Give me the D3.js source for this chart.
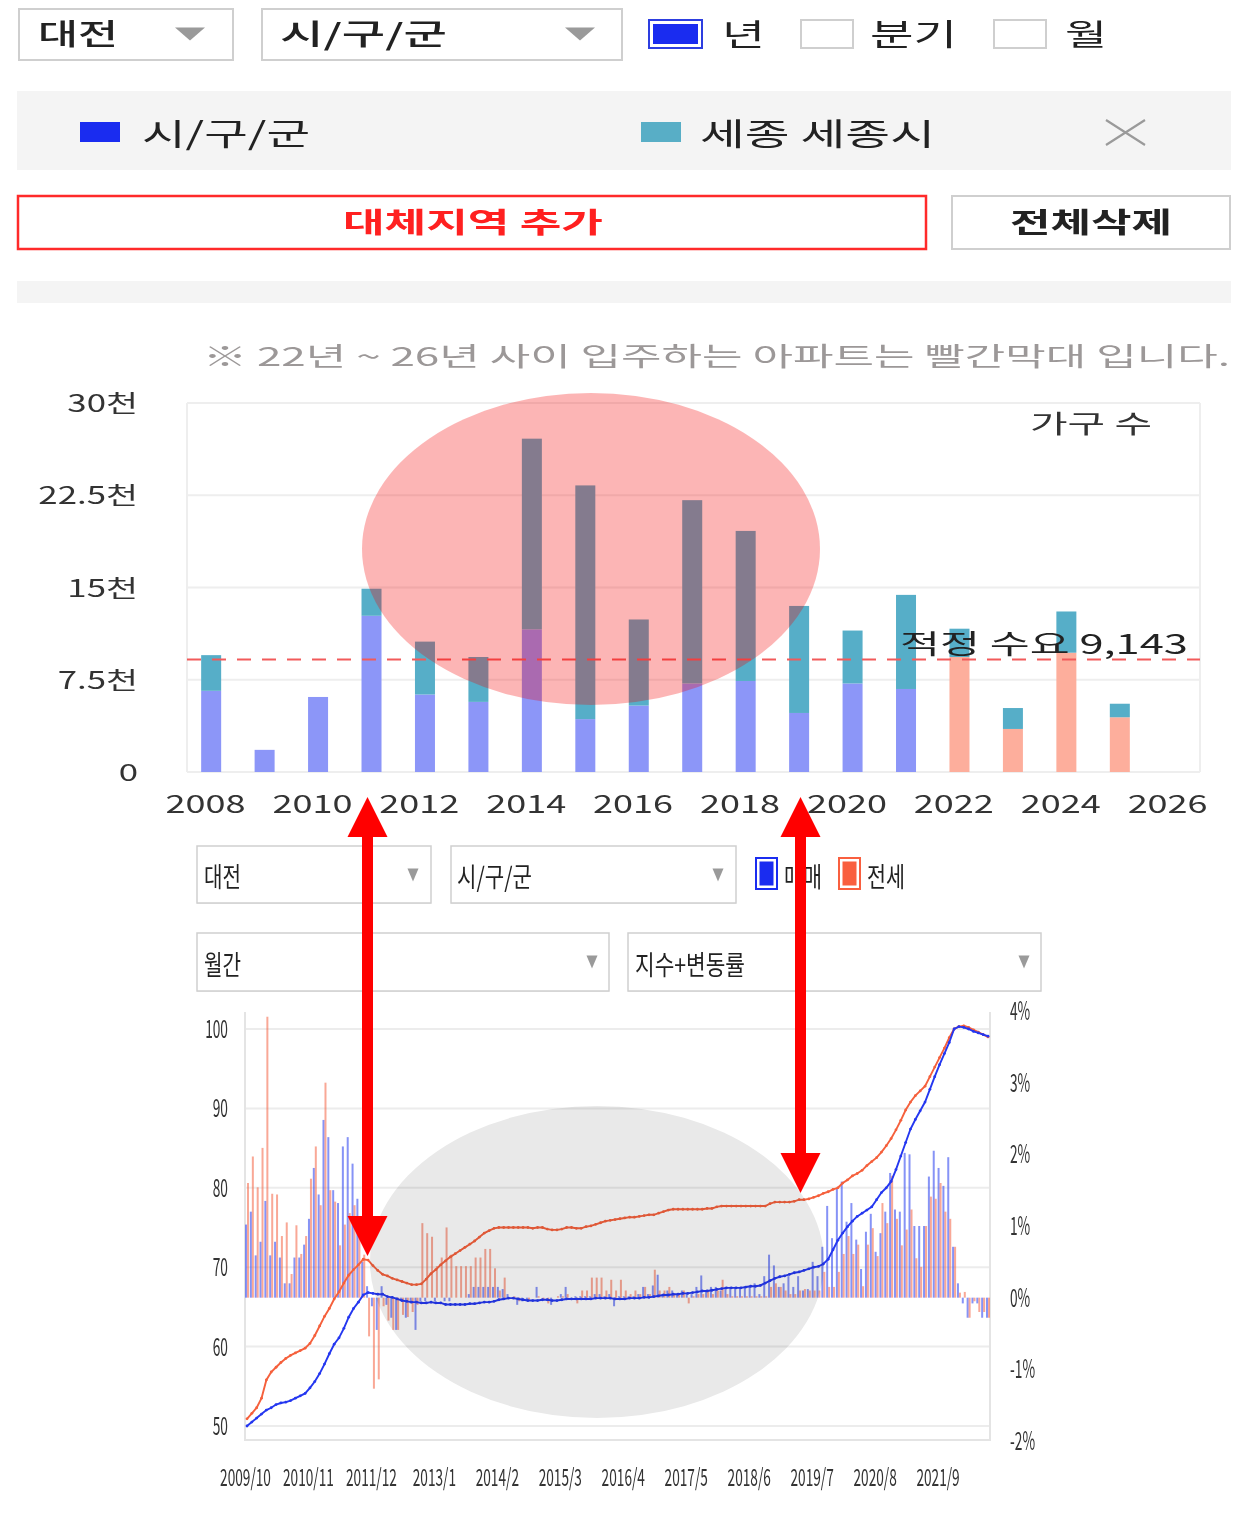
<!DOCTYPE html>
<html><head><meta charset="utf-8">
<script src="https://cdn.jsdelivr.net/npm/d3@7"></script>
<style>
body{margin:0;background:#fff;}
svg text{font-family:"Noto Sans CJK KR","Noto Sans",sans-serif;}
</style></head><body>
<svg id="c" width="1234" height="1518"></svg>
<script>
// ---------- DATA: top chart (입주 물량, 천 가구) ----------
const years = [2008,2009,2010,2011,2012,2013,2014,2015,2016,2017,2018,2019,2020,2021,2022,2023,2024,2025];
const daejeonSupply = [6.6,1.8,6.1,12.7,6.3,5.7,11.6,4.3,5.4,7.2,7.4,4.8,7.2,6.75,9.35,3.5,9.7,4.45];
const sejongSupply  = [2.9,0,0,2.2,4.3,3.65,15.5,19.0,7.0,14.9,12.2,8.7,4.3,7.65,2.3,1.7,3.35,1.1];
const futureFromYear = 2022;
const demandValue = 9.143;
const topYTicks = [0,7.5,15,22.5,30];
const topYTickLabels = ['0','7.5천','15천','22.5천','30천'];
const topXTicks = [2008,2010,2012,2014,2016,2018,2020,2022,2024,2026];

// ---------- DATA: bottom chart (월간 지수 + 변동률) ----------
const monthTickIdx = [0,13,26,39,52,65,78,91,104,117,130,143];
const monthTickLabels = ['2009/10','2010/11','2011/12','2013/1','2014/2','2015/3','2016/4','2017/5','2018/6','2019/7','2020/8','2021/9'];
const leftTicks = [50,60,70,80,90,100];
const rightTicks = [-2,-1,0,1,2,3,4];
const rightTickLabels = ['-2%','-1%','0%','1%','2%','3%','4%'];
const saleIndex = [
50.0,50.5,51.0,51.5,52.0,52.3,52.7,52.9,53.0,53.2,
53.5,53.8,54.1,54.8,55.6,56.6,57.8,59.1,60.3,61.1,
62.3,63.7,64.8,65.6,66.5,66.8,66.7,66.6,66.6,66.3,
66.2,66.0,65.8,65.7,65.6,65.6,65.5,65.5,65.6,65.5,
65.5,65.3,65.3,65.3,65.3,65.3,65.4,65.4,65.5,65.6,
65.6,65.7,65.9,66.0,66.1,66.1,66.0,65.9,65.8,65.8,
65.8,65.9,65.9,65.8,65.8,65.9,66.0,66.0,66.0,66.0,
66.0,66.0,66.1,66.1,66.1,66.1,66.0,66.0,66.0,66.1,
66.1,66.1,66.2,66.2,66.3,66.4,66.5,66.5,66.6,66.6,
66.7,66.7,66.8,66.9,67.0,67.0,67.1,67.2,67.3,67.4,
67.4,67.4,67.4,67.5,67.6,67.6,67.7,68.0,68.3,68.6,
68.8,68.9,69.1,69.3,69.4,69.6,69.8,70.0,70.1,70.4,
71.0,72.2,73.4,74.3,75.1,75.8,76.4,76.8,77.2,77.6,
78.5,79.4,80.0,80.8,82.3,84.0,85.7,87.4,88.6,89.7,
90.8,92.4,94.0,95.5,96.9,98.3,100.0,100.3,100.2,100.0,
99.7,99.5,99.3,99.1];
const jeonseIndex = [
50.9,51.6,52.3,53.5,55.8,56.8,57.4,58.0,58.5,58.9,
59.2,59.5,59.8,60.4,61.4,62.6,63.8,64.8,66.0,66.9,
68.0,69.0,69.7,70.3,71.0,70.9,70.2,69.6,69.1,68.9,
68.6,68.4,68.2,68.0,67.8,67.8,67.9,68.5,69.2,69.7,
70.3,70.8,71.3,71.7,72.1,72.5,72.9,73.3,73.8,74.3,
74.6,74.9,75.0,75.0,75.0,75.0,75.0,75.0,75.0,74.9,
75.0,75.0,74.8,74.7,74.7,74.8,75.0,75.0,74.9,74.9,
75.1,75.2,75.4,75.6,75.8,75.9,76.0,76.1,76.2,76.3,
76.3,76.4,76.5,76.6,76.6,76.8,77.0,77.2,77.3,77.3,
77.3,77.3,77.3,77.3,77.3,77.4,77.4,77.6,77.7,77.7,
77.7,77.7,77.7,77.7,77.7,77.7,77.7,77.7,78.0,78.2,
78.2,78.2,78.2,78.3,78.5,78.5,78.6,78.8,79.0,79.3,
79.5,79.8,80.0,80.6,81.0,81.5,81.8,82.2,82.8,83.3,
83.8,84.5,85.3,86.2,87.3,88.5,89.8,90.8,91.6,92.2,
92.8,94.0,95.2,96.4,97.6,98.9,100.0,100.3,100.4,100.2,
99.9,99.6,99.3,99.0];
const saleChange = [
1.02,1.20,0.59,0.78,1.35,0.59,0.78,0.56,0.20,0.20,
0.56,0.56,0.74,1.10,1.81,1.44,2.48,2.24,1.50,1.32,
2.11,2.24,1.87,1.38,0.50,0.16,-0.12,-0.45,0.16,-0.10,
-0.28,-0.45,-0.05,-0.28,-0.08,-0.45,-0.05,-0.05,0.00,-0.05,
0.00,-0.05,-0.05,0.00,0.00,0.00,0.05,0.15,0.15,0.15,
0.15,0.15,0.15,0.12,0.05,0.00,-0.10,-0.05,-0.05,0.00,
0.15,0.00,0.00,-0.10,0.00,0.05,0.15,0.00,0.02,0.02,
0.02,0.02,0.05,0.05,0.02,0.05,-0.12,0.02,0.02,0.02,
0.02,0.05,0.15,0.05,0.17,0.32,0.05,0.10,0.10,0.05,
0.10,0.05,0.05,0.15,0.31,0.10,0.15,0.15,0.10,0.15,
0.15,0.15,0.15,0.15,0.15,0.20,0.05,0.30,0.60,0.45,
0.15,0.20,0.30,0.15,0.30,0.10,0.12,0.50,0.30,0.71,
1.28,0.83,1.53,1.62,1.06,1.32,0.81,0.40,0.92,1.17,
0.64,0.90,1.20,1.74,1.23,1.20,2.02,2.00,1.00,1.00,
1.00,1.69,2.05,1.81,1.56,1.96,0.71,0.20,-0.08,-0.28,
-0.08,-0.08,-0.28,-0.28];
const jeonseChange = [
1.60,1.97,1.54,2.09,3.92,1.45,1.44,0.86,1.05,0.33,
1.01,0.61,0.86,1.66,2.11,1.29,3.00,1.50,1.34,0.73,
1.02,1.18,1.29,1.00,0.60,-0.54,-1.27,-1.14,-0.12,-0.32,
-0.45,-0.45,-0.24,-0.27,-0.20,-0.10,1.04,0.90,0.85,0.44,
0.56,0.98,0.60,0.44,0.44,0.44,0.44,0.56,0.56,0.68,
0.68,0.41,0.10,0.28,0.00,0.02,-0.05,0.00,-0.03,0.00,
0.02,-0.03,-0.08,0.00,0.02,0.02,0.05,0.00,-0.08,0.10,
0.10,0.28,0.28,0.28,0.10,0.25,0.10,0.25,0.10,0.05,
0.10,0.05,0.15,0.05,0.39,0.10,0.10,0.15,0.05,0.05,
0.10,-0.08,0.02,0.05,0.05,0.10,0.05,0.10,0.25,0.05,
0.02,0.02,0.02,0.02,0.02,0.02,0.02,0.02,0.15,0.20,
0.15,0.10,0.05,0.05,0.10,0.12,0.10,0.10,0.10,0.36,
0.15,0.15,0.36,0.61,0.86,0.61,0.74,0.16,0.74,0.97,
0.58,1.32,1.04,1.70,1.10,0.73,0.95,1.23,0.55,0.43,
1.00,1.41,1.38,1.60,1.20,1.10,0.71,0.07,0.08,-0.28,
-0.05,-0.20,-0.20,-0.28];

// ---------- helpers ----------
const svg = d3.select('#c');
function txt(g,x,y,str,size,fill,opt={}){
  const t=g.append('text').attr('x',x).attr('y',y).attr('font-size',size).attr('fill',fill)
    .attr('font-weight',opt.weight||400).attr('text-anchor',opt.anchor||'start').text(str);
  if(opt.width) t.attr('textLength',opt.width).attr('lengthAdjust','spacingAndGlyphs');
  return t;
}
function stretch(sel,f){ sel.each(function(){ const w=this.getComputedTextLength(); d3.select(this).attr('textLength',w*f).attr('lengthAdjust','spacingAndGlyphs'); }); }
function box(x,y,w,h,stroke,sw){ return svg.append('rect').attr('x',x).attr('y',y).attr('width',w).attr('height',h).attr('fill','#fff').attr('stroke',stroke).attr('stroke-width',sw); }
function tri(cx,cy,w,h,fill){ svg.append('path').attr('d',`M${cx-w/2},${cy-h/2}L${cx+w/2},${cy-h/2}L${cx},${cy+h/2}Z`).attr('fill',fill); }

// ---------- top controls ----------
box(19,9,214,51,'#cfcfcf',2);
txt(svg,38,45,'대전',29,'#222',{width:80,weight:500});
tri(190,34,30,13,'#9a9a9a');
box(262,9,360,51,'#cfcfcf',2);
txt(svg,280,45,'시/구/군',29,'#222',{width:167,weight:500});
tri(580,34,30,13,'#9a9a9a');
svg.append('rect').attr('x',649).attr('y',20).attr('width',53).attr('height',28).attr('fill','#fff').attr('stroke','#2d3ee0').attr('stroke-width',2);
svg.append('rect').attr('x',653).attr('y',24).attr('width',45).attr('height',20).attr('fill','#1a2cf0');
txt(svg,722,45,'년',30,'#222',{width:43});
svg.append('rect').attr('x',801).attr('y',20).attr('width',52).attr('height',28).attr('fill','#fff').attr('stroke','#cfcfcf').attr('stroke-width',2);
txt(svg,870,45,'분기',30,'#222',{width:87});
svg.append('rect').attr('x',994).attr('y',20).attr('width',52).attr('height',28).attr('fill','#fff').attr('stroke','#cfcfcf').attr('stroke-width',2);
txt(svg,1065,45,'월',30,'#222',{width:42});

svg.append('rect').attr('x',17).attr('y',91).attr('width',1214).attr('height',79).attr('fill','#f4f4f4');
svg.append('rect').attr('x',80).attr('y',122).attr('width',40).attr('height',20).attr('fill','#1a2cf0');
txt(svg,142,145,'시/구/군',31,'#222',{width:168});
svg.append('rect').attr('x',641).attr('y',122).attr('width',40).attr('height',20).attr('fill','#58aec6');
txt(svg,700,145,'세종 세종시',31,'#222',{width:235});
svg.append('path').attr('d','M1106,120L1145,145M1106,145L1145,120').attr('stroke','#9a9a9a').attr('stroke-width',2.2);

svg.append('rect').attr('x',18).attr('y',196).attr('width',908).attr('height',53).attr('fill','#fff').attr('stroke','#ff2a2a').attr('stroke-width',2.5);
txt(svg,343,233,'대체지역 추가',28,'#ff2020',{width:260,weight:700});
box(952,196,278,53,'#cfcfcf',2);
txt(svg,1010,233,'전체삭제',28,'#222',{width:162,weight:700});
svg.append('rect').attr('x',17).attr('y',281).attr('width',1214).attr('height',22).attr('fill','#f4f4f4');

txt(svg,203,366,'※ 22년 ~ 26년 사이 입주하는 아파트는 빨간막대 입니다.',26,'#9c9898',{width:1027});

// ---------- top bar chart ----------
const xT = d3.scaleLinear().domain([2007.663,2026.615]).range([187,1200]);
const yT = d3.scaleLinear().domain([0,30]).range([772,403]);
const gT = svg.append('g');
gT.selectAll('line.grid').data(topYTicks).join('line').attr('x1',187).attr('x2',1200)
  .attr('y1',d=>yT(d)).attr('y2',d=>yT(d)).attr('stroke','#eeeeee').attr('stroke-width',2);
gT.append('line').attr('x1',187).attr('x2',187).attr('y1',403).attr('y2',772).attr('stroke','#eeeeee').attr('stroke-width',2);
gT.append('line').attr('x1',1200).attr('x2',1200).attr('y1',403).attr('y2',772).attr('stroke','#eeeeee').attr('stroke-width',2);

const bw = 20;
gT.selectAll('rect.loc').data(years).join('rect')
  .attr('x',(d)=>xT(d+0.115)-bw/2).attr('width',bw)
  .attr('y',(d,i)=>yT(daejeonSupply[i])).attr('height',(d,i)=>yT(0)-yT(daejeonSupply[i]))
  .attr('fill',d=>d>=futureFromYear?'#fdae9c':'#8c96f8');
gT.selectAll('rect.sej').data(years).join('rect')
  .attr('x',(d)=>xT(d+0.115)-bw/2).attr('width',bw)
  .attr('y',(d,i)=>yT(daejeonSupply[i]+sejongSupply[i])).attr('height',(d,i)=>yT(daejeonSupply[i])-yT(daejeonSupply[i]+sejongSupply[i]))
  .attr('fill','#56aec8');

gT.append('line').attr('x1',187).attr('x2',1200).attr('y1',yT(demandValue)).attr('y2',yT(demandValue))
  .attr('stroke','#f25a5a').attr('stroke-width',2).attr('stroke-dasharray','14,11');

const axL = gT.append('g').attr('transform','translate(138,0)')
  .call(d3.axisLeft(yT).tickValues(topYTicks).tickFormat((d,i)=>topYTickLabels[i]).tickSize(0).tickPadding(0));
axL.select('.domain').remove();
axL.selectAll('text').attr('font-size',24).attr('fill','#333').attr('font-family','"Noto Sans CJK KR",sans-serif').attr('dy','0.36em');
stretch(axL.selectAll('text'),1.45);

const axB = gT.append('g').attr('transform','translate(0,798)')
  .call(d3.axisBottom(xT).tickValues(topXTicks).tickFormat(d=>String(d)).tickSize(0).tickPadding(0));
axB.select('.domain').remove();
axB.selectAll('text').attr('font-size',25).attr('fill','#333').attr('font-family','"Noto Sans CJK KR",sans-serif').attr('dy','0.6em')
  .attr('textLength',80).attr('lengthAdjust','spacingAndGlyphs');

txt(gT,1030,433,'가구 수',25,'#333',{width:122});
txt(gT,900,654,'적정 수요 9,143',27,'#222',{width:288});

svg.append('ellipse').attr('cx',591).attr('cy',549).attr('rx',229).attr('ry',156)
  .attr('fill','#f50000').attr('fill-opacity',0.29);

// ---------- bottom controls ----------
function box2(x,y,w,h){ svg.append('rect').attr('x',x).attr('y',y+1).attr('width',w).attr('height',h).attr('fill','#e9e9e9');
  svg.append('rect').attr('x',x).attr('y',y).attr('width',w).attr('height',h).attr('fill','#fff').attr('stroke','#cfcfcf').attr('stroke-width',1.5); }
box2(197,846,234,57); txt(svg,204,887,'대전',27,'#222',{width:37}); tri(413,875,11,13,'#9a9a9a');
box2(451,846,285,57); txt(svg,457,887,'시/구/군',27,'#222',{width:75}); tri(718,875,11,13,'#9a9a9a');
svg.append('rect').attr('x',756).attr('y',858).attr('width',21).attr('height',31).attr('fill','#fff').attr('stroke','#1a2cf0').attr('stroke-width',2);
svg.append('rect').attr('x',759.5).attr('y',861.5).attr('width',14).attr('height',24).attr('fill','#1a2cf0');
txt(svg,784,887,'매매',27,'#222',{width:38});
svg.append('rect').attr('x',839).attr('y',858).attr('width',21).attr('height',31).attr('fill','#fff').attr('stroke','#f95f3f').attr('stroke-width',2);
svg.append('rect').attr('x',842.5).attr('y',861.5).attr('width',14).attr('height',24).attr('fill','#f95f3f');
txt(svg,867,887,'전세',27,'#222',{width:38});
box2(197,933,412,58); txt(svg,204,975,'월간',27,'#222',{width:37}); tri(592,962,11,13,'#9a9a9a');
box2(628,933,413,58); txt(svg,635,975,'지수+변동률',27,'#222',{width:110}); tri(1024,962,11,13,'#9a9a9a');

// ---------- bottom chart ----------
const xL = d3.scaleLinear().domain([0,153]).range([247,988]);
const yL = d3.scaleLinear().domain([50,100]).range([1426,1029]);
const yR = d3.scaleLinear().domain([-2,4]).range([1441,1011]);
const gB = svg.append('g');
gB.selectAll('line.g').data(leftTicks).join('line').attr('x1',245).attr('x2',990)
  .attr('y1',d=>yL(d)).attr('y2',d=>yL(d)).attr('stroke','#ececec').attr('stroke-width',2);
gB.append('path').attr('d','M245,1012V1440H990V1012').attr('fill','none').attr('stroke','#e4e4e4').attr('stroke-width',2);

const idx = d3.range(saleIndex.length);
gB.selectAll('rect.sb').data(idx).join('rect')
  .attr('x',i=>xL(i)-2).attr('width',2)
  .attr('y',i=>Math.min(yR(saleChange[i]),yR(0))).attr('height',i=>Math.abs(yR(saleChange[i])-yR(0)))
  .attr('fill','#3c50f0').attr('opacity',0.62);
gB.selectAll('rect.jb').data(idx).join('rect')
  .attr('x',i=>xL(i)).attr('width',2)
  .attr('y',i=>Math.min(yR(jeonseChange[i]),yR(0))).attr('height',i=>Math.abs(yR(jeonseChange[i])-yR(0)))
  .attr('fill','#f4603f').attr('opacity',0.55);

const lineGen = arr => d3.line().x(i=>xL(i)).y(i=>yL(arr[i]))(idx);
gB.append('path').attr('d',lineGen(jeonseIndex)).attr('fill','none').attr('stroke','#f5603c').attr('stroke-width',1.9);
gB.selectAll('circle.j').data(idx).join('circle').attr('cx',i=>xL(i)).attr('cy',i=>yL(jeonseIndex[i])).attr('r',1.4).attr('fill','#f5603c');
gB.append('path').attr('d',lineGen(saleIndex)).attr('fill','none').attr('stroke','#2437f0').attr('stroke-width',1.9);
gB.selectAll('circle.s').data(idx).join('circle').attr('cx',i=>xL(i)).attr('cy',i=>yL(saleIndex[i])).attr('r',1.4).attr('fill','#2437f0');

const aL = gB.append('g').attr('transform','translate(228,0)')
  .call(d3.axisLeft(yL).tickValues(leftTicks).tickFormat(d=>String(d)).tickSize(0).tickPadding(0));
aL.select('.domain').remove();
aL.selectAll('text').attr('font-size',25).attr('fill','#333').attr('font-family','"Noto Sans CJK KR",sans-serif').attr('dy','0.34em')
  .attr('transform','scale(0.55,1)');
const aR = gB.append('g').attr('transform','translate(1010,0)')
  .call(d3.axisRight(yR).tickValues(rightTicks).tickFormat((d,i)=>rightTickLabels[i]).tickSize(0).tickPadding(0));
aR.select('.domain').remove();
aR.selectAll('text').attr('font-size',25).attr('fill','#333').attr('font-family','"Noto Sans CJK KR",sans-serif').attr('dy','0.34em')
  .attr('transform','scale(0.55,1)');
const aX = gB.append('g').attr('transform','translate(-2,1468)')
  .call(d3.axisBottom(xL).tickValues(monthTickIdx).tickFormat((d,i)=>monthTickLabels[i]).tickSize(0).tickPadding(0));
aX.select('.domain').remove();
aX.selectAll('text').attr('font-size',24).attr('fill','#333').attr('font-family','"Noto Sans CJK KR",sans-serif').attr('dy','0.75em')
  .attr('transform','scale(0.57,1)');

svg.append('ellipse').attr('cx',597).attr('cy',1262).attr('rx',227).attr('ry',156)
  .attr('fill','#e9e9e9').style('mix-blend-mode','multiply');

// ---------- red arrows ----------
function arrow(cx,top,bot,sw,hw,hh){
  svg.append('path').attr('d',
    `M${cx},${top}L${cx+hw/2},${top+hh}L${cx+sw/2},${top+hh}L${cx+sw/2},${bot-hh}L${cx+hw/2},${bot-hh}L${cx},${bot}`+
    `L${cx-hw/2},${bot-hh}L${cx-sw/2},${bot-hh}L${cx-sw/2},${top+hh}L${cx-hw/2},${top+hh}Z`).attr('fill','#ff0000');
}
arrow(367.5,797,1256,11,40,40);
arrow(800.5,797,1193,11,40,40);
</script>
</body></html>
